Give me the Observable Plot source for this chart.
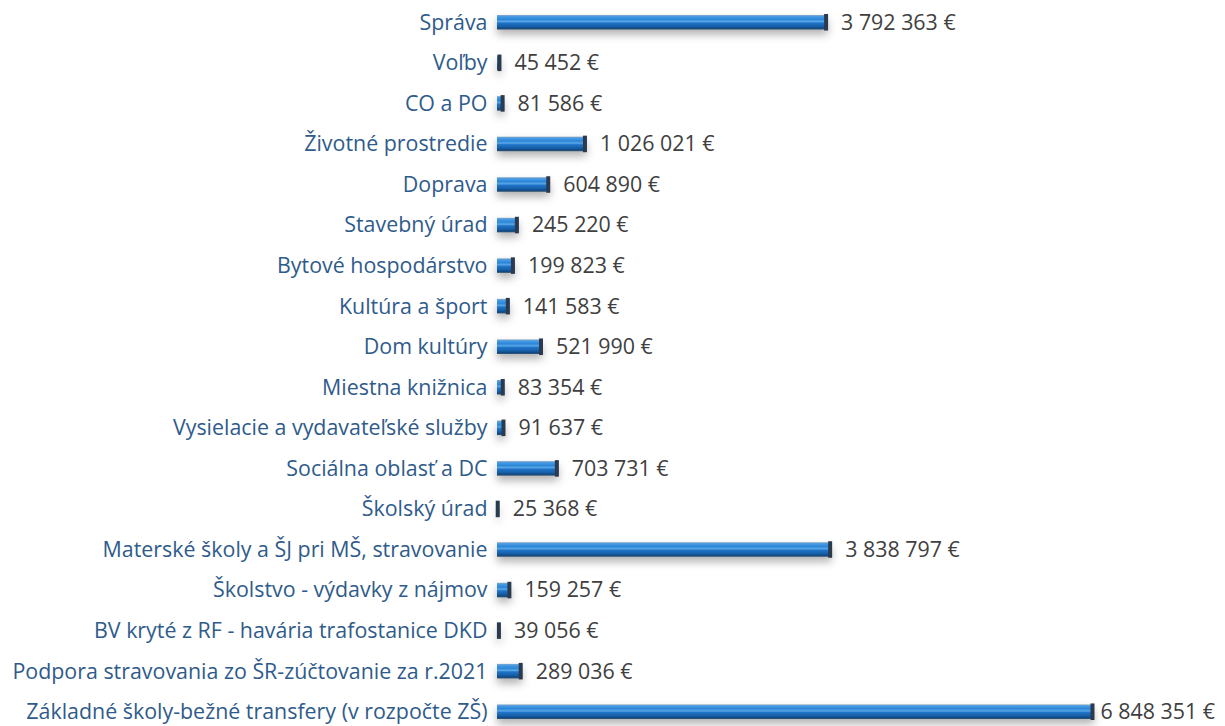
<!DOCTYPE html>
<html><head><meta charset="utf-8">
<script src="https://cdn.jsdelivr.net/npm/d3@7"></script>
<script src="https://cdn.jsdelivr.net/npm/@observablehq/plot@0.6"></script>
<style>body{margin:0;background:#fff;} #chart svg{display:block;}</style>
</head><body><div id="chart"></div>
<script>
const categories = [
  "Správa",
  "Voľby",
  "CO a PO",
  "Životné prostredie",
  "Doprava",
  "Stavebný úrad",
  "Bytové hospodárstvo",
  "Kultúra a šport",
  "Dom kultúry",
  "Miestna knižnica",
  "Vysielacie a vydavateľské služby",
  "Sociálna oblasť a DC",
  "Školský úrad",
  "Materské školy a ŠJ pri MŠ, stravovanie",
  "Školstvo - výdavky z nájmov",
  "BV kryté z RF - havária trafostanice DKD",
  "Podpora stravovania zo ŠR-zúčtovanie za r.2021",
  "Základné školy-bežné transfery (v rozpočte ZŠ)"
];
const values = [3792363, 45452, 81586, 1026021, 604890, 245220, 199823, 141583, 521990, 83354, 91637, 703731, 25368, 3838797, 159257, 39056, 289036, 6848351];

const data = categories.map((name, i) => ({name, value: values[i]}));
const num = d3.formatLocale({decimal: ",", thousands: "\u00a0", grouping: [3], currency: ["", ""]}).format(",.0f");
const fmt = v => num(v) + "\u00a0€";
const maxV = d3.max(values);

const font = "'Open Sans', 'Noto Sans', sans-serif";
const fs = 21.4;
const chart = Plot.plot({
  width: 1225, height: 726,
  marginLeft: 497, marginRight: 131, marginTop: 0, marginBottom: 0,
  x: {domain: [0, maxV], axis: null},
  y: {domain: categories, range: [2, 732], padding: 0, round: false, axis: null},
  style: {fontFamily: font, background: "white"},
  marks: [
    Plot.barX(data, {x: "value", y: "name", fill: "url(#barGrad)", insetTop: 13, insetBottom: 13}),
    Plot.tickX(data, {x: "value", y: "name", stroke: "#2b3a4e", strokeWidth: 4, dx: -2, insetTop: 12, insetBottom: 12}),
    Plot.text(data, {y: "name", text: "name", frameAnchor: "left", textAnchor: "end", dx: -10, fill: "#2f5b8a", fontSize: fs}),
    Plot.text(data.filter(d => d.value < maxV), {x: "value", y: "name", text: d => fmt(d.value), textAnchor: "start", dx: 13, fill: "#404040", fontSize: fs}),
    Plot.text(data.filter(d => d.value === maxV), {x: "value", y: "name", text: d => fmt(d.value), textAnchor: "start", dx: 6, fill: "#404040", fontSize: fs})
  ]
});

const svg = d3.select(chart);
const defs = svg.insert("defs", ":first-child");
const g = defs.append("linearGradient").attr("id", "barGrad").attr("x1", 0).attr("y1", 0).attr("x2", 0).attr("y2", 1);
[[0, "#8aa9c4"], [0.1, "#4a9be4"], [0.3, "#2a86d8"], [0.45, "#5aa6e6"], [0.55, "#1f74c8"], [0.78, "#165fa8"], [0.9, "#0e4a85"], [1, "#3b5670"]]
  .forEach(([o, c]) => g.append("stop").attr("offset", o).attr("stop-color", c));
svg.selectAll('g[aria-label="bar"]').style("filter", "drop-shadow(0px 5px 4px rgba(0,0,0,0.30))");
document.getElementById("chart").appendChild(chart);
</script>
</body></html>
